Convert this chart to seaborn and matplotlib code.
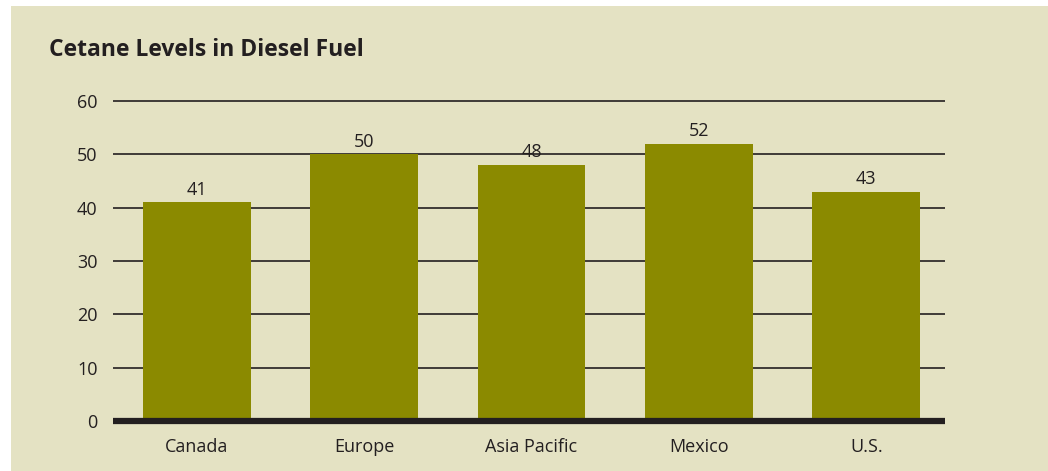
"""
Cetane levels in diesel fuel by region - bar chart.
"""

import pandas as pd
import matplotlib.pyplot as plt
import matplotlib.patches as mpatches
import seaborn as sns

regions = ["Canada", "Europe", "Asia Pacific", "Mexico", "U.S."]
cetane = [41, 50, 48, 52, 43]
y_ticks = [0, 10, 20, 30, 40, 50, 60]

BG = "#E4E2C3"
BAR = "#8B8A00"
INK = "#231F20"

sns.set_style("white")
plt.rcParams['font.family'] = ['Open Sans', 'DejaVu Sans']

df = pd.DataFrame({"region": regions, "cetane": cetane})

fig = plt.figure(figsize=(10.48, 4.71), dpi=100)
fig.patch.set_facecolor("white")

# beige panel, leaving a thin white strip at top and left
fig.patches.append(mpatches.Rectangle((11 / 1048, 0), 1, 1 - 6 / 471,
                                      transform=fig.transFigure,
                                      facecolor=BG, edgecolor="none", zorder=-10))

ax = fig.add_axes([113 / 1048, 50 / 471, 832 / 1048, 320 / 471])
ax.set_facecolor("none")

# grid lines
for t in y_ticks[1:]:
    ax.axhline(t, color=INK, lw=1.2, zorder=1, clip_on=False, solid_capstyle='butt')

sns.barplot(data=df, x="region", y="cetane", color=BAR, saturation=1,
            width=0.645, linewidth=0, ax=ax, zorder=2)

# thick baseline
ax.axhline(0, color=INK, lw=4.5, zorder=3, clip_on=False, solid_capstyle='butt')

for i, v in enumerate(cetane):
    ax.text(i, v + 0.7, str(v), ha='center', va='bottom', fontsize=13, color=INK)

ax.set_ylim(0, 60)
ax.set_xlim(-0.5, 4.47)
ax.set_yticks(y_ticks)
ax.set_yticklabels([str(t) for t in y_ticks], fontsize=13, color=INK)
ax.tick_params(axis='y', length=0, pad=11)
ax.tick_params(axis='x', length=0, pad=12, labelsize=13, labelcolor=INK)
ax.set_xlabel("")
ax.set_ylabel("")
for s in ax.spines.values():
    s.set_visible(False)

fig.text(49 / 1048, 1 - 50 / 471, "Cetane Levels in Diesel Fuel", fontsize=16.5,
         fontweight='bold', color=INK, va='center', ha='left')

plt.savefig("out.png", dpi=100)
plt.close()
